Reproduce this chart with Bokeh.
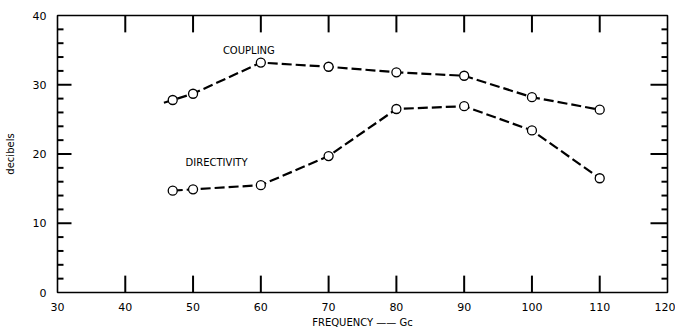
from bokeh.plotting import figure
from bokeh.models import Range1d, FixedTicker, ColumnDataSource
from bokeh.core.properties import value
from bokeh.embed import file_html
from bokeh.resources import INLINE

# Measured values (frequency in Gc, levels in decibels)
freq = [47, 50, 60, 70, 80, 90, 100, 110]
coupling = [27.8, 28.7, 33.2, 32.6, 31.8, 31.3, 28.2, 26.4]
directivity = [14.7, 14.9, 15.5, 19.7, 26.5, 26.9, 23.4, 16.5]

# The coupling curve is drawn a little past its first measured point
coupling_lead_x = [45.7]
coupling_lead_y = [27.4]

x_ticks = [30, 40, 50, 60, 70, 80, 90, 100, 110, 120]
y_ticks = [0, 10, 20, 30, 40]
y_minor = [2, 4, 6, 8, 12, 14, 16, 18, 22, 24, 26, 28, 32, 34, 36, 38]

X0, X1 = 30, 120
Y0, Y1 = 0, 40
W, H = 675, 330
BL, BR, BT, BB = 57, 8, 15, 36
FONT = "DejaVu Sans"

# data units per screen pixel inside the frame, for tick sizes
ux = (X1 - X0) / (W - BL - BR)
uy = (Y1 - Y0) / (H - BT - BB)

p = figure(width=W, height=H, output_backend="svg", toolbar_location=None,
           x_range=Range1d(X0, X1), y_range=Range1d(Y0, Y1),
           min_border_left=BL, min_border_right=BR, min_border_top=BT,
           min_border_bottom=BB)

p.grid.visible = False
p.outline_line_color = "black"
p.outline_line_width = 1.6
p.background_fill_color = "white"
p.border_fill_color = "white"

xa = p.xaxis[0]
xa.ticker = FixedTicker(ticks=x_ticks)
xa.major_tick_line_color = None
xa.minor_tick_line_color = None
xa.axis_line_color = None
xa.major_label_text_font = FONT
xa.major_label_text_font_size = "11px"
xa.major_label_text_color = "black"
xa.major_label_standoff = 4
xa.axis_label = "FREQUENCY \u2014\u2014 Gc"
xa.axis_label_text_font = FONT
xa.axis_label_text_font_style = "normal"
xa.axis_label_text_font_size = "10px"
xa.axis_label_text_color = "black"
xa.axis_label_standoff = 3

ya = p.yaxis[0]
ya.ticker = FixedTicker(ticks=y_ticks)
ya.major_tick_line_color = None
ya.minor_tick_line_color = None
ya.axis_line_color = None
ya.major_label_text_font = FONT
ya.major_label_text_font_size = "11px"
ya.major_label_text_color = "black"
ya.major_label_standoff = 5
ya.axis_label = "decibels"
ya.axis_label_text_font = FONT
ya.axis_label_text_font_style = "normal"
ya.axis_label_text_font_size = "10px"
ya.axis_label_text_color = "black"
ya.axis_label_standoff = 14

# Inward tick marks on all four sides of the frame, as thin filled bars
inner_x = x_ticks[1:-1]
inner_y = y_ticks[1:-1]
tw_x = 2.0 * ux
tw_y = 2.0 * uy
bar = dict(fill_color="black", line_color=None, level="overlay")
p.vbar(x=inner_x, width=tw_x, bottom=Y0, top=Y0 + 17 * uy, **bar)
p.vbar(x=inner_x, width=tw_x, bottom=Y1 - 17 * uy, top=Y1, **bar)
p.hbar(y=inner_y, height=tw_y, left=X0, right=X0 + 14 * ux, **bar)
p.hbar(y=inner_y, height=tw_y, left=X1 - 17 * ux, right=X1, **bar)
p.hbar(y=y_minor, height=tw_y, left=X0, right=X0 + 6 * ux, **bar)
p.hbar(y=y_minor, height=tw_y, left=X1 - 6 * ux, right=X1, **bar)

dash = "10 4"
p.line(coupling_lead_x + freq, coupling_lead_y + coupling, line_color="black",
       line_width=2.2, line_dash=dash)
p.line(freq, directivity, line_color="black", line_width=2.2, line_dash=dash)

src = ColumnDataSource(dict(f=freq, c=coupling, d=directivity))
p.scatter("f", "c", source=src, size=9, fill_color="white", line_color="black",
          line_width=1.3)
p.scatter("f", "d", source=src, size=9, fill_color="white", line_color="black",
          line_width=1.3)

p.text(x=[54.4], y=[35.0], text=["COUPLING"], text_font=value(FONT),
       text_font_size="10px", text_baseline="middle", text_align="left",
       text_color="black")
p.text(x=[48.9], y=[18.8], text=["DIRECTIVITY"], text_font=value(FONT),
       text_font_size="10px", text_baseline="middle", text_align="left",
       text_color="black")

open("out.html", "w").write(file_html(p, INLINE))
